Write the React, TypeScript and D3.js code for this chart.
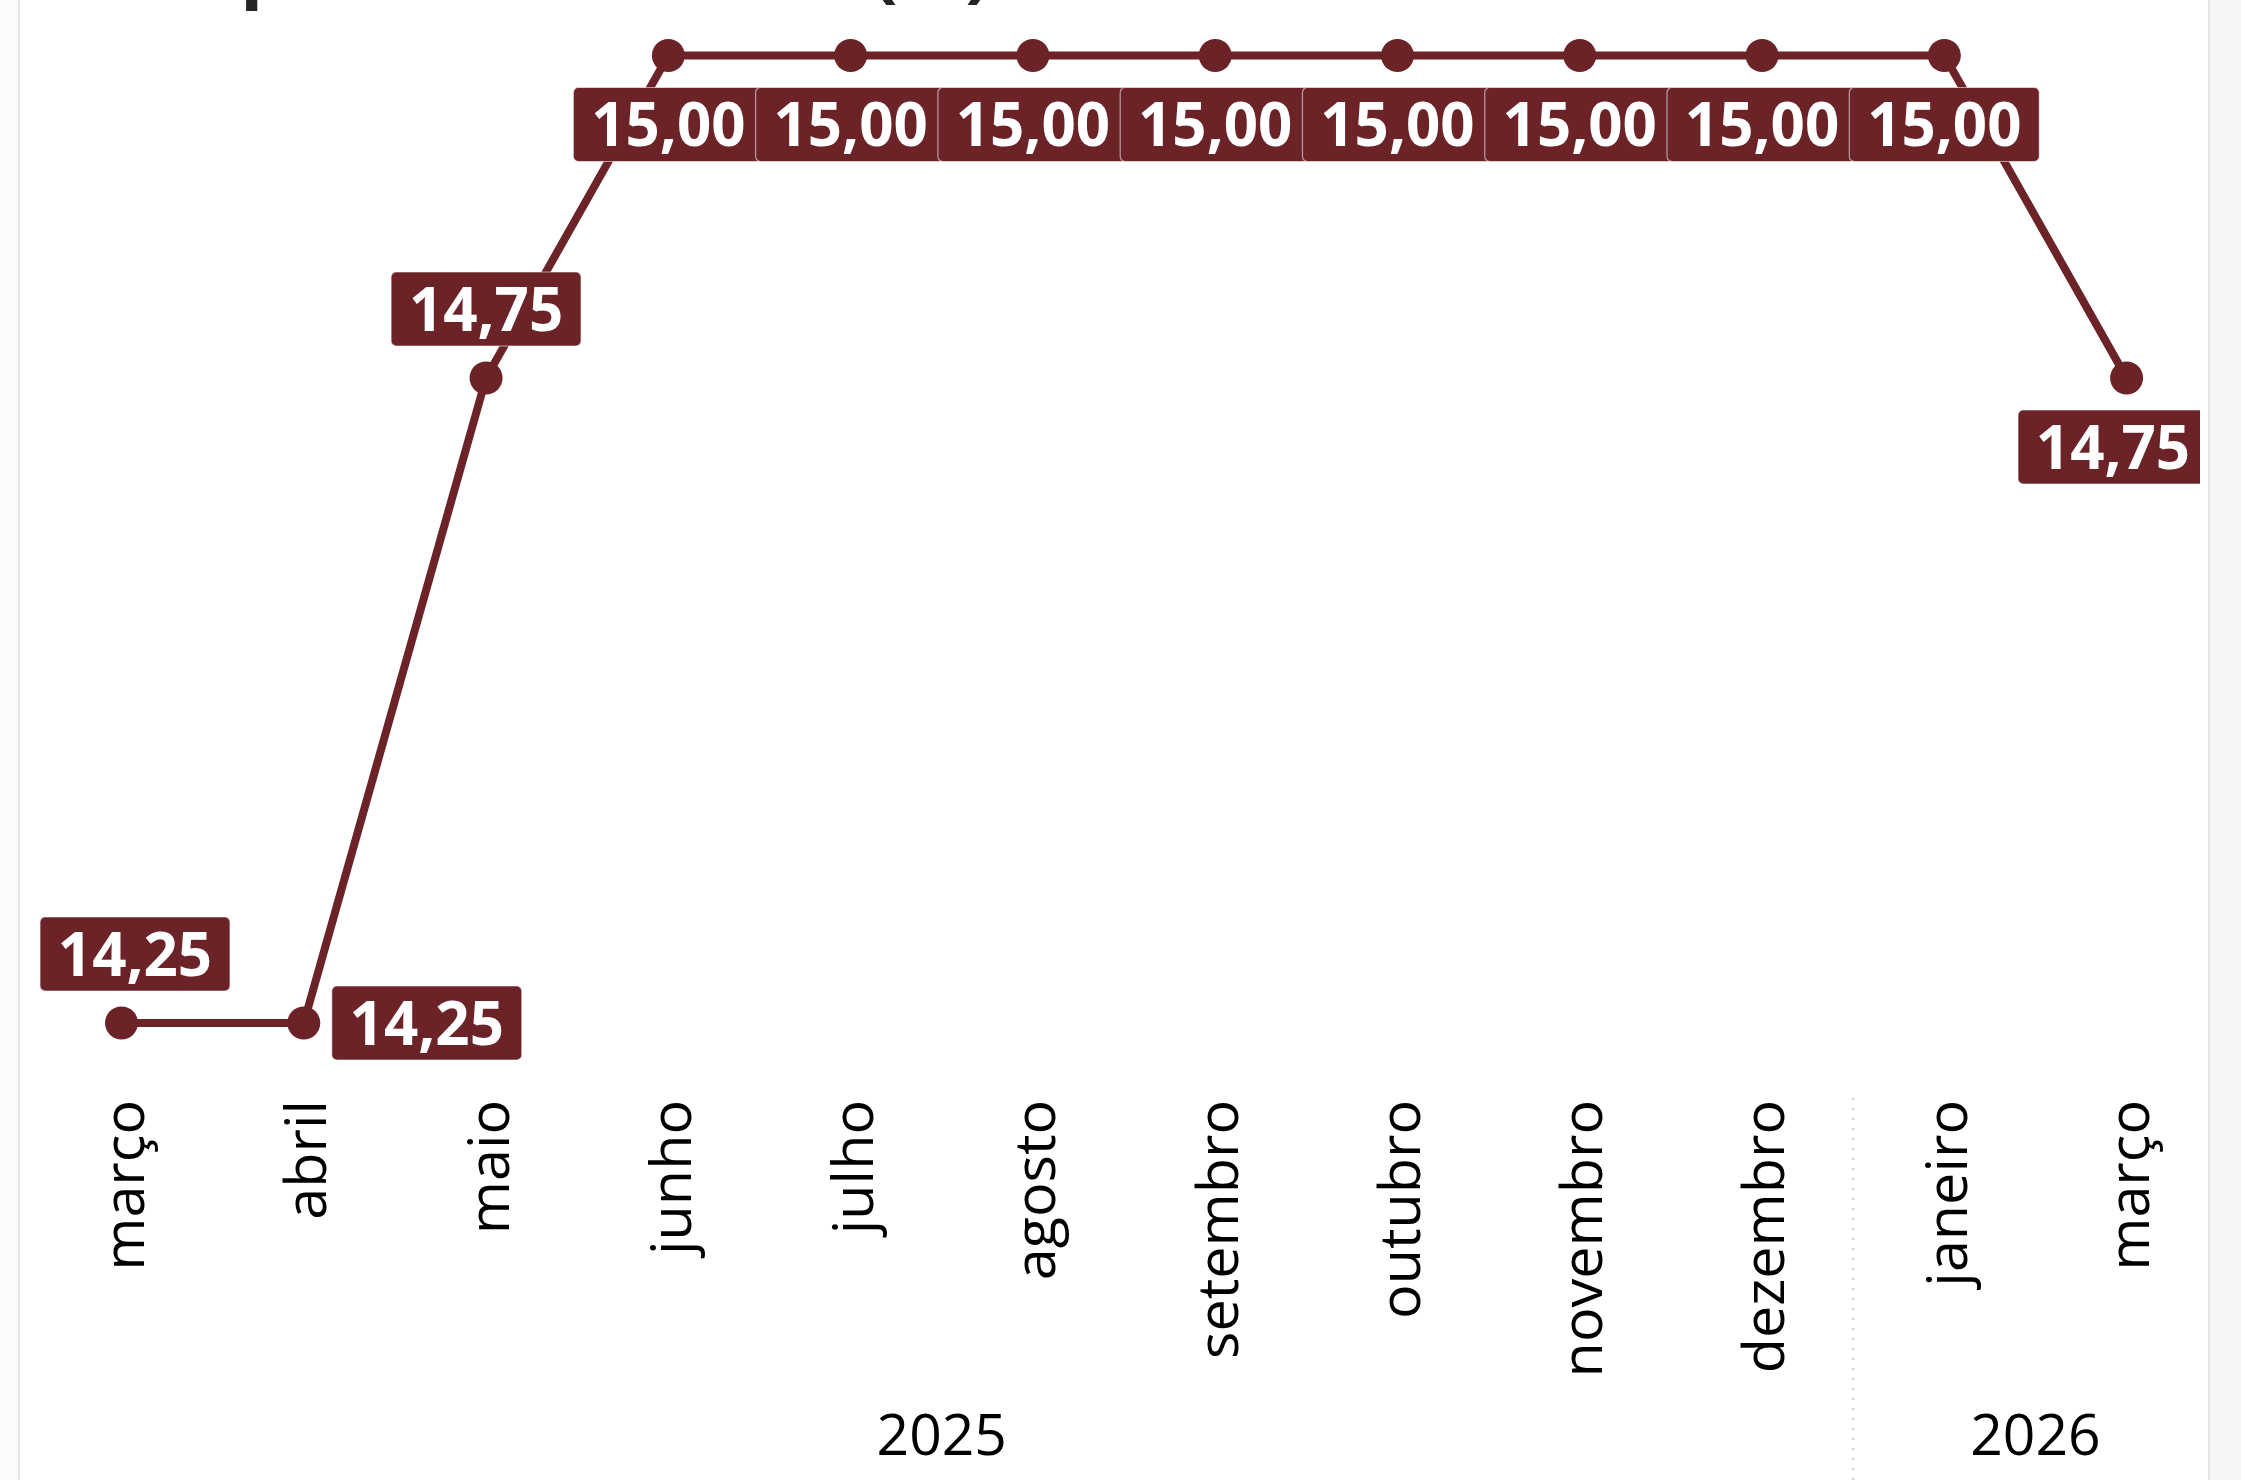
import React, { useEffect, useRef } from "react";
import * as d3 from "d3";

const months = ["março", "abril", "maio", "junho", "julho", "agosto", "setembro", "outubro", "novembro", "dezembro", "janeiro", "março"];
const rates = [14.25, 14.25, 14.75, 15.0, 15.0, 15.0, 15.0, 15.0, 15.0, 15.0, 15.0, 14.75];
const labelPlacement = ["above", "right", "above", "below", "below", "below", "below", "below", "below", "below", "below", "below"];
const years = [
  { year: "2025", from: 0, to: 9 },
  { year: "2026", from: 10, to: 11 },
];
const title = "Meta para a taxa Selic (%)";

const W = 2241;
const H = 1480;
const MAROON = "#6b2328";
const FONT = "'Open Sans', 'Noto Sans', sans-serif";

export default function App() {
  const ref = useRef<SVGSVGElement | null>(null);

  useEffect(() => {
    document.body.style.margin = "0";
    const svg = d3.select(ref.current);
    svg.selectAll("*").remove();

    const x = d3.scalePoint<number>().domain(d3.range(months.length)).range([121.5, 2126.6]);
    const y = d3.scaleLinear().domain([14.25, 15]).range([1023, 55.5]);

    // background panels
    svg.append("rect").attr("x", 0).attr("y", 0).attr("width", W).attr("height", H).attr("fill", "#ffffff");
    svg.append("rect").attr("x", 0).attr("y", 0).attr("width", 18).attr("height", H).attr("fill", "#fbfbfb");
    svg.append("line").attr("x1", 19).attr("x2", 19).attr("y1", 0).attr("y2", H).attr("stroke", "#e4e4e4").attr("stroke-width", 2);
    svg.append("rect").attr("x", 2209).attr("y", 0).attr("width", W - 2209).attr("height", H).attr("fill", "#f6f6f6");
    svg.append("line").attr("x1", 2209).attr("x2", 2209).attr("y1", 0).attr("y2", H).attr("stroke", "#e6e6e6").attr("stroke-width", 2);

    // title (clipped by the top edge, as in the source)
    svg.append("text")
      .attr("x", 28).attr("y", -7)
      .attr("font-family", FONT).attr("font-weight", 700).attr("font-size", 75)
      .attr("fill", "#252423").text(title);

    const defs = svg.append("defs");
    defs.append("clipPath").attr("id", "plotclip")
      .append("rect").attr("x", 20).attr("y", 0).attr("width", 2180).attr("height", H);

    const g = svg.append("g").attr("clip-path", "url(#plotclip)");

    // line
    const line = d3.line<number>().x((_, i) => x(i) as number).y((d) => y(d));
    g.append("path").datum(rates).attr("d", line).attr("fill", "none")
      .attr("stroke", MAROON).attr("stroke-width", 8).attr("stroke-linejoin", "round");

    // dots
    g.selectAll("circle.pt").data(rates).join("circle")
      .attr("cx", (_, i) => x(i) as number).attr("cy", (d) => y(d)).attr("r", 16.5).attr("fill", MAROON);

    // labels
    const bw = 190, bh = 74, gap = 32;
    const fmt = (v: number) => v.toFixed(2).replace(".", ",");
    rates.forEach((v, i) => {
      const px = x(i) as number;
      const py = y(v);
      const pos = labelPlacement[i];
      let bx = px - bw / 2;
      let by = py - gap - bh;
      if (pos === "below") by = py + gap;
      if (pos === "right") { bx = px + 28; by = py - bh / 2; }
      if (bx < 40) bx = 40;
      if (bx + bw > 2208) bx = 2208 - bw;
      const lg = g.append("g");
      lg.append("rect").attr("x", bx).attr("y", by).attr("width", bw).attr("height", bh).attr("rx", 5)
        .attr("fill", MAROON).attr("stroke", "rgba(255,255,255,0.55)").attr("stroke-width", 1.2);
      lg.append("text").attr("x", bx + bw / 2).attr("y", by + bh / 2).attr("dy", "0.36em")
        .attr("text-anchor", "middle").attr("font-family", FONT).attr("font-weight", 700).attr("font-size", 60)
        .attr("fill", "#ffffff").text(fmt(v));
    });

    // month axis labels
    months.forEach((m, i) => {
      const px = x(i) as number;
      svg.append("text").attr("transform", `translate(${px},1100) rotate(-90)`)
        .attr("text-anchor", "end").attr("dy", "0.39em")
        .attr("font-family", FONT).attr("font-weight", 500).attr("font-size", 57.5).attr("fill", "#000000").text(m);
    });

    // year separators and labels
    years.forEach((yr, k) => {
      const cx = ((x(yr.from) as number) + (x(yr.to) as number)) / 2;
      svg.append("text").attr("x", cx).attr("y", 1455).attr("text-anchor", "middle")
        .attr("font-family", FONT).attr("font-weight", 500).attr("font-size", 57).attr("fill", "#000000").text(yr.year);
      if (k > 0) {
        const sx = ((x(yr.from - 1) as number) + (x(yr.from) as number)) / 2;
        svg.append("line").attr("x1", sx).attr("x2", sx).attr("y1", 1098).attr("y2", H)
          .attr("stroke", "#c8c8c8").attr("stroke-width", 2).attr("stroke-dasharray", "2,8");
      }
    });
  }, []);

  return <svg ref={ref} width={W} height={H} style={{ display: "block" }} />;
}
